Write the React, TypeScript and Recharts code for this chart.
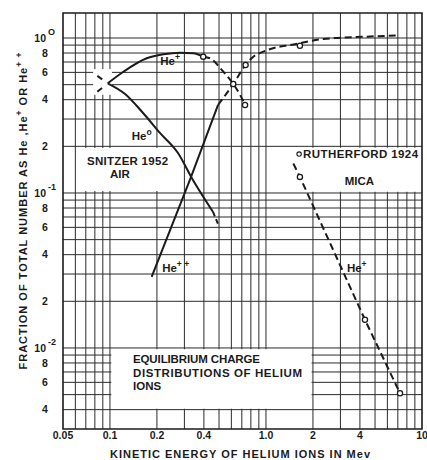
import React from 'react';
import {
  ComposedChart,
  Line,
  Scatter,
  XAxis,
  YAxis,
  ReferenceLine,
  ReferenceArea,
  ReferenceDot,
} from 'recharts';

const FONT = '"Liberation Sans", Arial, sans-serif';
const INK = '#1b1b1b';

// kinetic energy in MeV (x) against fraction of ions (y)
const xTicks = [0.05, 0.1, 0.2, 0.4, 1, 2, 4, 10];
const xTickLabels = ['0.05', '0.1', '0.2', '0.4', '1.0', '2', '4', '10'];
const yTicks = [0.004, 0.006, 0.008, 0.01, 0.02, 0.04, 0.06, 0.08, 0.1, 0.2, 0.4, 0.6, 0.8, 1];

const xGrid = [0.06, 0.07, 0.08, 0.09, 0.1, 0.2, 0.3, 0.4, 0.5, 0.6, 0.7, 0.8, 0.9, 1, 2, 3, 4, 5, 6, 7, 8, 9];
const yGrid = [
  0.004, 0.005, 0.006, 0.007, 0.008, 0.009, 0.01, 0.02, 0.03, 0.04, 0.05, 0.06, 0.07, 0.08, 0.09,
  0.1, 0.2, 0.3, 0.4, 0.5, 0.6, 0.7, 0.8, 0.9, 1,
];

// Snitzer 1952, air
const hePlusLeadX = [0.083, 0.0967];
const hePlusLeadY = [0.45, 0.51];
const heZeroLeadX = [0.083, 0.0967];
const heZeroLeadY = [0.57, 0.51];
const hePlusX = [0.0967, 0.122, 0.172, 0.22, 0.281, 0.342, 0.396];
const hePlusY = [0.51, 0.606, 0.74, 0.785, 0.804, 0.797, 0.758];
const hePlusDropX = [0.396, 0.438, 0.533, 0.617, 0.682, 0.734];
const hePlusDropY = [0.758, 0.74, 0.606, 0.505, 0.43, 0.37];
const heZeroX = [0.0967, 0.125, 0.163, 0.209, 0.273, 0.333, 0.457];
const heZeroY = [0.51, 0.435, 0.328, 0.244, 0.181, 0.126, 0.0757];
const heZeroTailX = [0.457, 0.493];
const heZeroTailY = [0.0757, 0.063];
const hePlusPlusX = [0.185, 0.331, 0.493];
const hePlusPlusY = [0.0288, 0.127, 0.37];
const hePlusPlusRiseX = [0.493, 0.617, 0.74, 0.83, 0.96, 1.17, 1.43, 2.33, 4.4, 7.2];
const hePlusPlusRiseY = [0.37, 0.505, 0.67, 0.758, 0.816, 0.871, 0.9, 0.985, 1.02, 1.04];
const snitzerPointX = [0.396, 0.617, 0.734, 0.74, 1.65];
const snitzerPointY = [0.758, 0.505, 0.37, 0.67, 0.892];

// Rutherford 1924, mica
const micaLineX = [1.497, 1.65, 4.31, 7.23];
const micaLineY = [0.155, 0.127, 0.0152, 0.0051];
const micaPointX = [1.65, 4.31, 7.23];
const micaPointY = [0.127, 0.0152, 0.0051];

const pts = (xs: number[], ys: number[]) => xs.map((x, i) => ({ x, y: ys[i] }));

const curves = [
  { id: 'hePlusLead', data: pts(hePlusLeadX, hePlusLeadY), dash: '6 10', kind: 'linear' },
  { id: 'heZeroLead', data: pts(heZeroLeadX, heZeroLeadY), dash: '6 10', kind: 'linear' },
  { id: 'hePlus', data: pts(hePlusX, hePlusY), dash: undefined, kind: 'monotone' },
  { id: 'hePlusDrop', data: pts(hePlusDropX, hePlusDropY), dash: '7 4', kind: 'monotone' },
  { id: 'heZero', data: pts(heZeroX, heZeroY), dash: undefined, kind: 'monotone' },
  { id: 'heZeroTail', data: pts(heZeroTailX, heZeroTailY), dash: '5 3', kind: 'linear' },
  { id: 'hePlusPlus', data: pts(hePlusPlusX, hePlusPlusY), dash: undefined, kind: 'linear' },
  { id: 'hePlusPlusRise', data: pts(hePlusPlusRiseX, hePlusPlusRiseY), dash: '7 4', kind: 'monotone' },
  { id: 'mica', data: pts(micaLineX, micaLineY), dash: '7 4', kind: 'linear' },
];

// blank patches of the hand-drawn grid, in data units
const blanks = [
  { x1: 0.078, x2: 0.103, y1: 0.43, y2: 0.63 },
  { x1: 0.062, x2: 0.29, y1: 0.103, y2: 0.195 },
  { x1: 0.102, x2: 1.96, y1: 0.00405, y2: 0.0098 },
  { x1: 1.4, x2: 10, y1: 0.102, y2: 0.196 },
];

type Note = { x: number; y: number; text: string; sup?: string; len?: number; dot?: boolean };
const notes: Note[] = [
  { x: 0.21, y: 0.67, text: 'He', sup: '+' },
  { x: 0.138, y: 0.22, text: 'He', sup: 'o' },
  { x: 0.0713, y: 0.152, text: 'SNITZER 1952', len: 81 },
  { x: 0.1, y: 0.125, text: 'AIR' },
  { x: 0.216, y: 0.031, text: 'He', sup: '+ +' },
  { x: 1.63, y: 0.168, text: 'RUTHERFORD 1924', len: 115, dot: true },
  { x: 3.2, y: 0.113, text: 'MICA' },
  { x: 3.3, y: 0.031, text: 'He', sup: '+' },
  { x: 0.1405, y: 0.008, text: 'EQUILIBRIUM CHARGE', len: 127 },
  { x: 0.1405, y: 0.0065, text: 'DISTRIBUTIONS OF HELIUM', len: 169 },
  { x: 0.1405, y: 0.00536, text: 'IONS' },
];

const NoteText = ({ cx, cy, note }: { cx: number; cy: number; note: Note }) => {
  const tx = note.dot ? cx + 4 : cx;
  return (
    <g>
      {note.dot && <circle cx={cx} cy={cy - 4} r={2.2} fill="#fff" stroke={INK} strokeWidth={1.1} />}
      <text
        x={tx}
        y={cy}
        fontFamily={FONT}
        fontSize={11.5}
        fontWeight="bold"
        fill={INK}
        textLength={note.len}
        lengthAdjust={note.len ? 'spacing' : undefined}
      >
        {note.text}
        {note.sup && (
          <tspan dy={-5} fontSize={8.5}>
            {note.sup}
          </tspan>
        )}
      </text>
    </g>
  );
};

const XTick = (props: any) => {
  const { x, y, payload } = props;
  const idx = xTicks.indexOf(payload.value);
  return (
    <text x={x} y={y} dy="0.71em" textAnchor="middle" fontFamily={FONT} fontSize={10.5} fontWeight="bold" fill={INK}>
      {idx >= 0 ? xTickLabels[idx] : payload.value}
    </text>
  );
};

const YTick = (props: any) => {
  const { x, y, payload } = props;
  const v = payload.value as number;
  const exp = Math.floor(Math.log10(v) + 1e-9);
  const mant = Math.round(v / Math.pow(10, exp));
  const common = { fontFamily: FONT, fontSize: 10.5, fontWeight: 'bold', fill: INK } as const;
  if (mant === 1) {
    return (
      <g>
        <text x={x - 17} y={y} dy="0.36em" textAnchor="end" {...common}>
          10
        </text>
        <text x={x - 15} y={y - 6} dy="0.36em" textAnchor="start" {...common} fontSize={9}>
          {exp === 0 ? 'O' : String(exp)}
        </text>
      </g>
    );
  }
  return (
    <text x={x - 18} y={y} dy="0.36em" textAnchor="middle" {...common}>
      {mant}
    </text>
  );
};

const App = () => {
  return (
    <div style={{ position: 'absolute', left: 0, top: 0, width: 427, height: 460, background: '#fff' }}>
      <ComposedChart width={427} height={460} margin={{ top: 13, right: 5, bottom: 0, left: 0 }}>
        <XAxis
          dataKey="x"
          type="number"
          scale="log"
          domain={[0.05, 10]}
          ticks={xTicks}
          interval={0}
          allowDataOverflow
          axisLine={false}
          tickLine={false}
          tickSize={0}
          tickMargin={3}
          height={31}
          tick={<XTick />}
        />
        <YAxis
          dataKey="y"
          type="number"
          scale="log"
          domain={[0.003, 1.45]}
          ticks={yTicks}
          interval={0}
          allowDataOverflow
          axisLine={false}
          tickLine={false}
          tickSize={0}
          tickMargin={0}
          width={63}
          tick={<YTick />}
        />

        {xGrid.map((v) => (
          <ReferenceLine key={`gx-${v}`} x={v} stroke="#2b2b2b" strokeWidth={1} zIndex={50} />
        ))}
        {yGrid.map((v) => (
          <ReferenceLine key={`gy-${v}`} y={v} stroke="#2b2b2b" strokeWidth={1} zIndex={50} />
        ))}
        {blanks.map((b, i) => (
          <ReferenceArea
            key={`blank-${i}`}
            x1={b.x1}
            x2={b.x2}
            y1={b.y1}
            y2={b.y2}
            fill="#fff"
            fillOpacity={1}
            stroke="none"
            zIndex={60}
          />
        ))}
        <ReferenceArea
          x1={0.05}
          x2={10}
          y1={0.003}
          y2={1.45}
          fill="none"
          stroke={INK}
          strokeWidth={1.6}
          zIndex={70}
        />

        {curves.map((c) => (
          <Line
            key={c.id}
            data={c.data}
            dataKey="y"
            type={c.kind as any}
            stroke={INK}
            strokeWidth={2}
            strokeDasharray={c.dash}
            dot={false}
            activeDot={false}
            isAnimationActive={false}
          />
        ))}
        <Scatter
          data={pts(snitzerPointX, snitzerPointY)}
          dataKey="y"
          isAnimationActive={false}
          shape={(p: any) => <circle cx={p.cx} cy={p.cy} r={2.6} fill="#fff" stroke={INK} strokeWidth={1.3} />}
        />
        <Scatter
          data={pts(micaPointX, micaPointY)}
          dataKey="y"
          isAnimationActive={false}
          shape={(p: any) => <circle cx={p.cx} cy={p.cy} r={2.6} fill="#fff" stroke={INK} strokeWidth={1.3} />}
        />

        {notes.map((n, i) => (
          <ReferenceDot
            key={`note-${i}`}
            x={n.x}
            y={n.y}
            r={0}
            ifOverflow="visible"
            zIndex={800}
            shape={(p: any) => <NoteText cx={p.cx} cy={p.cy} note={n} />}
          />
        ))}
      </ComposedChart>

      <svg
        width={427}
        height={460}
        style={{ position: 'absolute', left: 0, top: 0, pointerEvents: 'none' }}
      >
        <text
          x={240}
          y={458}
          textAnchor="middle"
          fontFamily={FONT}
          fontSize={11}
          fontWeight="bold"
          fill={INK}
          textLength={260}
          lengthAdjust="spacing"
        >
          KINETIC ENERGY OF HELIUM IONS IN Mev
        </text>
        <text
          x={23}
          y={211}
          dy="0.36em"
          transform="rotate(-90 23 211)"
          textAnchor="middle"
          fontFamily={FONT}
          fontSize={11}
          fontWeight="bold"
          fill={INK}
          textLength={317}
          lengthAdjust="spacing"
        >
          FRACTION OF TOTAL NUMBER AS He ,He
          <tspan dy={-5} fontSize={8.5}>+</tspan>
          <tspan dy={5}> OR He</tspan>
          <tspan dy={-5} fontSize={8.5}>+ +</tspan>
        </text>
      </svg>
    </div>
  );
};

export default App;
